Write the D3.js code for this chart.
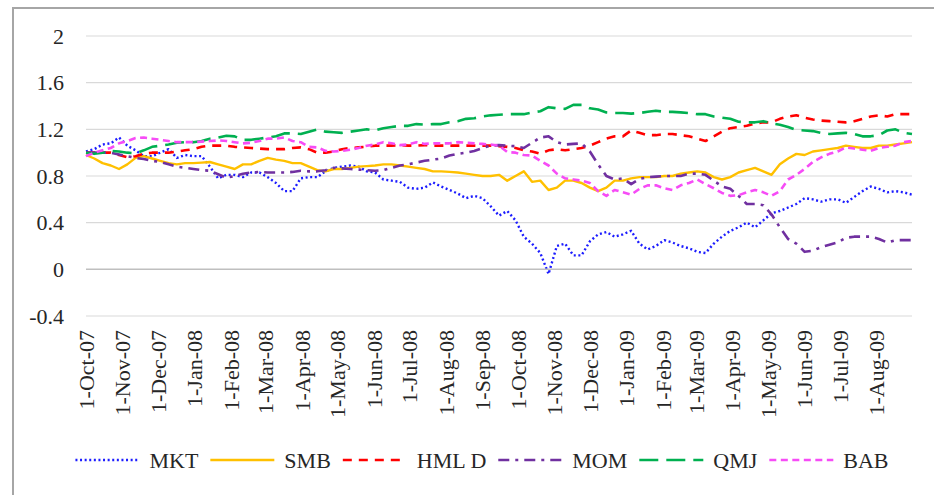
<!DOCTYPE html>
<html>
<head>
<meta charset="utf-8">
<script src="https://cdn.jsdelivr.net/npm/d3@7"></script>
<style>
  html, body { margin: 0; padding: 0; background: #fff; }
  svg { display: block; }
  text { font-family: 'Liberation Serif', 'Times New Roman', serif; }
</style>
</head>
<body>
<svg id="chart" width="934" height="495"></svg>
<script>
// ---------- DATA ----------
const dates = ["2007-10-01","2007-10-08","2007-10-15","2007-10-22","2007-10-29","2007-11-05","2007-11-12","2007-11-19","2007-11-26","2007-12-03","2007-12-10","2007-12-17","2007-12-24","2007-12-31",
"2008-01-07","2008-01-14","2008-01-21","2008-01-28","2008-02-04","2008-02-11","2008-02-18","2008-02-25","2008-03-03","2008-03-10","2008-03-17","2008-03-24","2008-03-31",
"2008-04-07","2008-04-14","2008-04-21","2008-04-28","2008-05-05","2008-05-12","2008-05-19","2008-05-26","2008-06-02","2008-06-09","2008-06-16","2008-06-23","2008-06-30",
"2008-07-07","2008-07-14","2008-07-21","2008-07-28","2008-08-04","2008-08-11","2008-08-18","2008-08-25","2008-09-01","2008-09-08","2008-09-15","2008-09-22","2008-09-29",
"2008-10-06","2008-10-13","2008-10-20","2008-10-27","2008-11-03","2008-11-10","2008-11-17","2008-11-24","2008-12-01","2008-12-08","2008-12-15","2008-12-22","2008-12-29",
"2009-01-05","2009-01-12","2009-01-19","2009-01-26","2009-02-02","2009-02-09","2009-02-16","2009-02-23","2009-03-02","2009-03-09","2009-03-16","2009-03-23","2009-03-30",
"2009-04-06","2009-04-13","2009-04-20","2009-04-27","2009-05-04","2009-05-11","2009-05-18","2009-05-25","2009-06-01","2009-06-08","2009-06-15","2009-06-22","2009-06-29",
"2009-07-06","2009-07-13","2009-07-20","2009-07-27","2009-08-03","2009-08-10","2009-08-17","2009-08-24","2009-08-31"];

const MKT = [1.01,1.03,1.07,1.08,1.13,1.06,1.02,0.97,0.97,1.0,1.03,0.955,0.98,0.97,0.97,0.88,0.78,0.81,0.81,0.79,0.83,0.83,0.79,0.74,0.67,0.67,
0.78,0.79,0.79,0.84,0.87,0.88,0.89,0.88,0.84,0.83,0.77,0.76,0.75,0.70,0.69,0.70,0.745,0.71,0.68,0.65,0.61,0.63,0.61,
0.54,0.46,0.50,0.42,0.28,0.22,0.14,-0.04,0.2,0.22,0.12,0.12,0.24,0.30,0.32,0.28,0.30,0.33,0.22,0.17,0.2,0.25,0.23,0.2,0.18,0.15,0.14,
0.22,0.28,0.33,0.36,0.40,0.36,0.42,0.48,0.5,0.53,0.56,0.61,0.6,0.58,0.6,0.6,0.57,0.62,0.67,0.71,0.69,0.66,0.67,0.66,0.64];

const SMB = [0.98,0.95,0.91,0.89,0.86,0.9,0.955,0.97,0.95,0.93,0.91,0.9,0.91,0.91,0.915,0.92,0.9,0.88,0.86,0.9,0.9,0.93,0.955,0.94,0.93,0.91,
0.91,0.88,0.85,0.84,0.86,0.86,0.87,0.88,0.885,0.89,0.9,0.9,0.89,0.88,0.87,0.86,0.84,0.84,0.835,0.83,0.82,0.81,0.8,0.8,0.81,
0.76,0.8,0.84,0.75,0.76,0.68,0.7,0.76,0.76,0.74,0.7,0.67,0.7,0.76,0.76,0.78,0.79,0.79,0.79,0.8,0.8,0.82,0.83,0.84,0.83,
0.79,0.77,0.79,0.83,0.85,0.87,0.84,0.81,0.9,0.95,0.99,0.98,1.01,1.02,1.03,1.04,1.06,1.05,1.04,1.04,1.06,1.06,1.07,1.08,1.09];

const HMLD = [1.0,1.0,1.0,1.0,0.98,0.96,0.97,0.99,1.0,1.0,1.0,1.01,1.02,1.03,1.05,1.06,1.06,1.06,1.05,1.045,1.04,1.035,1.03,1.03,1.03,1.04,
1.045,1.03,1.0,1.0,1.01,1.03,1.04,1.045,1.05,1.06,1.06,1.06,1.065,1.06,1.06,1.065,1.06,1.06,1.06,1.06,1.06,1.06,1.06,1.06,1.055,
1.05,1.04,1.02,1.01,0.99,1.02,1.03,1.02,1.03,1.04,1.06,1.09,1.12,1.14,1.14,1.19,1.17,1.15,1.15,1.16,1.16,1.15,1.14,1.12,1.1,
1.14,1.18,1.21,1.22,1.23,1.25,1.26,1.26,1.29,1.31,1.32,1.3,1.285,1.275,1.27,1.265,1.26,1.27,1.29,1.31,1.32,1.31,1.33,1.33,1.33];

const MOM = [1.0,1.0,1.0,1.0,0.985,0.97,0.955,0.945,0.93,0.92,0.9,0.88,0.87,0.86,0.85,0.845,0.815,0.785,0.8,0.82,0.83,0.835,0.83,0.83,0.83,0.835,
0.845,0.84,0.84,0.85,0.87,0.865,0.86,0.855,0.85,0.845,0.85,0.87,0.89,0.9,0.915,0.93,0.94,0.95,0.975,0.99,1.0,1.015,1.04,1.06,1.065,
1.06,1.055,1.04,1.085,1.13,1.14,1.09,1.07,1.075,1.08,1.01,0.9,0.8,0.77,0.78,0.73,0.775,0.79,0.795,0.8,0.8,0.8,0.82,0.82,0.81,
0.76,0.71,0.69,0.63,0.56,0.56,0.55,0.47,0.36,0.26,0.22,0.15,0.16,0.19,0.21,0.23,0.27,0.28,0.28,0.28,0.26,0.23,0.25,0.25,0.25];

const QMJ = [1.0,0.99,1.0,1.015,1.01,1.0,0.995,1.02,1.05,1.06,1.07,1.085,1.09,1.09,1.1,1.12,1.13,1.145,1.14,1.11,1.11,1.12,1.13,1.14,1.165,1.165,
1.16,1.18,1.2,1.18,1.175,1.17,1.18,1.19,1.2,1.19,1.21,1.22,1.23,1.23,1.245,1.24,1.245,1.245,1.26,1.27,1.29,1.295,1.31,1.32,1.325,
1.33,1.33,1.33,1.345,1.355,1.39,1.38,1.375,1.41,1.41,1.38,1.37,1.345,1.34,1.34,1.335,1.34,1.35,1.36,1.35,1.35,1.345,1.34,1.33,1.33,
1.31,1.3,1.29,1.265,1.26,1.26,1.27,1.25,1.24,1.22,1.195,1.19,1.185,1.17,1.16,1.165,1.17,1.16,1.14,1.14,1.15,1.19,1.2,1.17,1.16];

const BAB = [0.97,1.0,1.02,1.04,1.08,1.1,1.125,1.13,1.12,1.11,1.1,1.09,1.09,1.09,1.095,1.1,1.105,1.1,1.09,1.08,1.085,1.1,1.12,1.12,1.13,1.1,
1.09,1.05,1.045,1.015,1.01,1.015,1.025,1.04,1.06,1.07,1.09,1.08,1.065,1.07,1.09,1.075,1.08,1.08,1.08,1.09,1.085,1.08,1.075,1.07,1.06,
1.005,1.0,0.98,0.975,0.93,0.89,0.82,0.78,0.77,0.76,0.74,0.67,0.63,0.68,0.66,0.64,0.69,0.72,0.72,0.695,0.68,0.72,0.74,0.77,0.73,
0.695,0.655,0.63,0.635,0.66,0.68,0.66,0.63,0.67,0.77,0.81,0.86,0.92,0.96,0.99,1.01,1.045,1.035,1.025,1.015,1.04,1.05,1.06,1.09,1.1];

const seriesNames = ["MKT", "SMB", "HML D", "MOM", "QMJ", "BAB"];
const seriesValues = [MKT, SMB, HMLD, MOM, QMJ, BAB];

const yTicks = [-0.4, 0, 0.4, 0.8, 1.2, 1.6, 2];
const xTickLabels = ["1-Oct-07","1-Nov-07","1-Dec-07","1-Jan-08","1-Feb-08","1-Mar-08","1-Apr-08","1-May-08","1-Jun-08","1-Jul-08","1-Aug-08","1-Sep-08",
"1-Oct-08","1-Nov-08","1-Dec-08","1-Jan-09","1-Feb-09","1-Mar-09","1-Apr-09","1-May-09","1-Jun-09","1-Jul-09","1-Aug-09"];

// ---------- STYLES ----------
const FONT = "'Liberation Serif', 'Times New Roman', serif";
const styles = {
  "MKT":   { color: "#1c1cff", dash: "2,2.6", width: 2.4 },
  "SMB":   { color: "#ffc000", dash: null,    width: 2.4 },
  "HML D": { color: "#ff0000", dash: "9,7",   width: 2.6 },
  "MOM":   { color: "#7030a0", dash: "11,6,3,6", width: 2.6 },
  "QMJ":   { color: "#00b050", dash: "19,8",  width: 2.6 },
  "BAB":   { color: "#f64cf6", dash: "7,4.5", width: 2.6 }
};

// ---------- CHART ----------
const svg = d3.select("#chart");
const W = 934, H = 495;
const fontSize = 22;

svg.append("rect").attr("width", W).attr("height", H).attr("fill", "#fff");
svg.append("rect").attr("x", 13).attr("y", 8).attr("width", 940).attr("height", 500)
  .attr("fill", "none").attr("stroke", "#a6a6a6").attr("stroke-width", 2);

const parse = d3.timeParse("%Y-%m-%d");
const tickParse = d3.timeParse("%d-%b-%y");
const xDates = dates.map(parse);

const x = d3.scaleTime()
  .domain([xDates[0], xDates[xDates.length - 1]])
  .range([86, 912]);
const y = d3.scaleLinear().domain([-0.4, 2]).range([316, 36]);

// gridlines
svg.append("g").selectAll("line").data(yTicks.filter(t => t !== 0)).join("line")
  .attr("x1", x.range()[0]).attr("x2", x.range()[1])
  .attr("y1", d => y(d)).attr("y2", d => y(d))
  .attr("stroke", "#d9d9d9").attr("stroke-width", 1.2);

// y axis labels
const yAxis = d3.axisLeft(y).tickValues(yTicks).tickSize(0).tickPadding(0)
  .tickFormat(d => String(+d.toFixed(1)));
const gy = svg.append("g").attr("transform", "translate(64,0)").call(yAxis)
  .attr("font-family", FONT).attr("font-size", fontSize);
gy.select(".domain").remove();
gy.selectAll("text").style("font-family", FONT).style("font-size", fontSize + "px").attr("fill", "#262626");

// series lines
const line = d3.line().x((d, i) => x(xDates[i])).y(d => y(d));
const lines = svg.append("g");
seriesNames.forEach((name, k) => {
  const st = styles[name];
  lines.append("path")
    .datum(seriesValues[k])
    .attr("d", line)
    .attr("fill", "none")
    .attr("stroke", st.color)
    .attr("stroke-width", st.width)
    .attr("stroke-dasharray", st.dash)
    .attr("stroke-linejoin", "round");
});

// horizontal axis line at 0
svg.append("line")
  .attr("x1", x.range()[0]).attr("x2", x.range()[1])
  .attr("y1", y(0)).attr("y2", y(0))
  .attr("stroke", "#bfbfbf").attr("stroke-width", 1.5);

// x axis labels (rotated)
const xTicks = xTickLabels.map(tickParse);
const xAxis = d3.axisBottom(x).tickValues(xTicks).tickSize(0).tickPadding(0)
  .tickFormat((d, i) => xTickLabels[i]);
const gx = svg.append("g").attr("transform", "translate(0,330)").call(xAxis)
  .attr("font-family", FONT).attr("font-size", fontSize);
gx.select(".domain").remove();
gx.selectAll("text")
  .style("font-family", FONT).style("font-size", fontSize + "px").attr("fill", "#262626")
  .attr("text-anchor", "end")
  .attr("transform", "rotate(-90)")
  .attr("x", 0).attr("y", 0).attr("dy", "0.33em");

// legend
const legend = svg.append("g");
const sampleLen = 64, gapSample = 10, gapItem = 12;
let cursor = 0;
const items = [];
seriesNames.forEach(name => {
  const st = styles[name];
  const g = legend.append("g");
  g.append("line").attr("x1", 0).attr("x2", sampleLen).attr("y1", 0).attr("y2", 0)
    .attr("stroke", st.color).attr("stroke-width", st.width).attr("stroke-dasharray", st.dash);
  const t = g.append("text").attr("x", sampleLen + gapSample).attr("y", 0).attr("dy", "0.35em")
    .style("font-family", FONT).style("font-size", fontSize + "px").attr("fill", "#262626").text(name);
  items.push({ g, w: t.node().getComputedTextLength() });
});
items.forEach(it => { it.g.attr("transform", `translate(${cursor},0)`); cursor += sampleLen + gapSample + it.w + gapItem; });
const totalW = cursor - gapItem;
legend.attr("transform", `translate(${482 - totalW / 2},460)`);
</script>
</body>
</html>
